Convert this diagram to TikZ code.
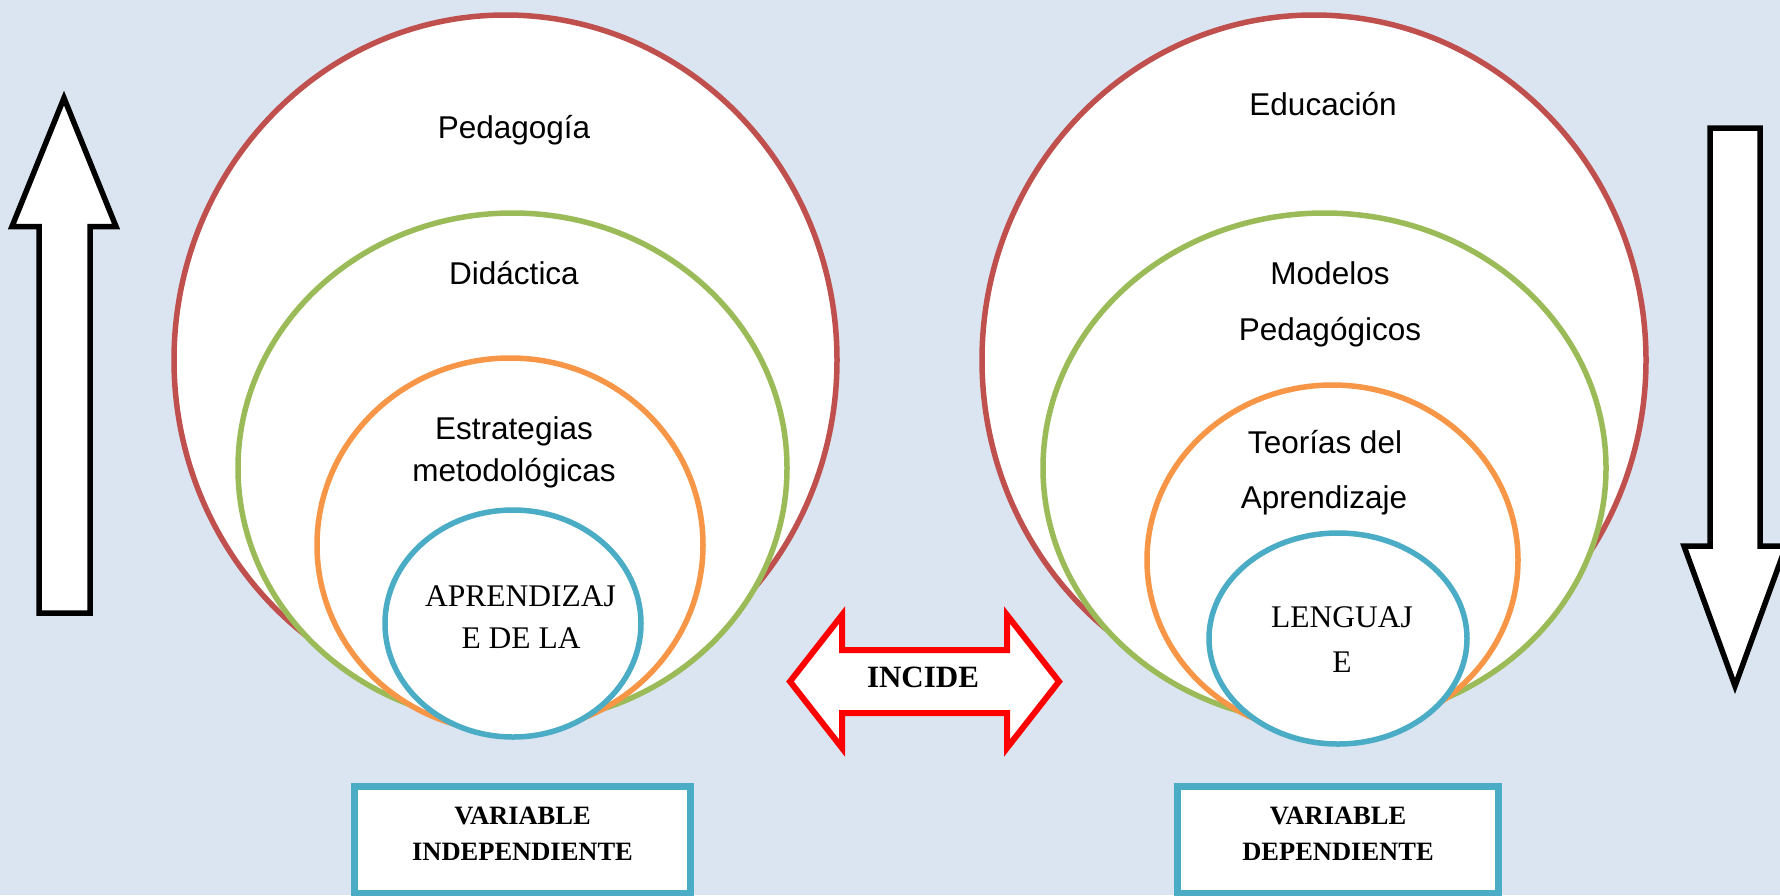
\documentclass[tikz,border=0pt]{standalone}
\usepackage{fontspec}
\setmainfont{Liberation Serif}
\newfontfamily\arialf{Liberation Sans}
\usetikzlibrary{shapes.geometric}
\definecolor{bgc}{HTML}{DBE5F1}
\definecolor{cred}{HTML}{C0504D}
\definecolor{cgreen}{HTML}{9BBB59}
\definecolor{corange}{HTML}{F79646}
\definecolor{cblue}{HTML}{4BACC6}
\definecolor{pure}{HTML}{FF0000}
\begin{document}
\begin{tikzpicture}[x=1pt,y=-1pt,
  ring/.style={ellipse, fill=white, line width=5.5pt, inner sep=0pt, outer sep=0pt},
  lab/.style={font=\arialf\fontsize{31.5}{36}\selectfont, anchor=base, inner sep=0pt},
  serl/.style={font=\fontsize{31.5}{36}\selectfont, anchor=base, inner sep=0pt},
  boxl/.style={font=\bfseries\fontsize{26.5}{30}\selectfont, anchor=base, inner sep=0pt},
  blockarrow/.style={fill=white, line width=5.5pt, line join=miter},
  varbox/.style={draw=cblue, line width=6.5pt, fill=white, inner sep=0pt, outer sep=0pt}]
\useasboundingbox (0,0) rectangle (1780,895);
\fill[bgc] (0,0) rectangle (1780,895);

% left nested circles
\node[ring, draw=cred, minimum width=663pt, minimum height=690pt] (redL) at (505.5,360) {};
\node[ring, draw=cgreen, minimum width=549pt, minimum height=510pt] (greenL) at (512.5,468) {};
\node[ring, draw=corange, minimum width=386pt, minimum height=374pt] (orangeL) at (510,545) {};
\node[ring, draw=cblue, minimum width=256pt, minimum height=227pt] (blueL) at (513,623.5) {};

% right nested circles
\node[ring, draw=cred, minimum width=664pt, minimum height=690pt] (redR) at (1314,360) {};
\node[ring, draw=cgreen, minimum width=563pt, minimum height=510pt] (greenR) at (1324.5,468) {};
\node[ring, draw=corange, minimum width=371pt, minimum height=350pt] (orangeR) at (1332.5,560) {};
\node[ring, draw=cblue, minimum width=258pt, minimum height=211pt] (blueR) at (1338,638.5) {};

% left labels
\node[lab] (pedagogia) at (514,138) {Pedagogía};
\node[lab] (didactica) at (514,284) {Didáctica};
\node[lab] (estrat1) at (514,439) {Estrategias};
\node[lab] (estrat2) at (514,481) {metodológicas};
\node[serl] (apr1) at (520.5,606) {APRENDIZAJ};
\node[serl] (apr2) at (521,648) {E DE LA};

% right labels
\node[lab] (educacion) at (1323,115) {Educación};
\node[lab] (modelos1) at (1330,284) {Modelos};
\node[lab] (modelos2) at (1330,340) {Pedagógicos};
\node[lab] (teorias1) at (1325,453) {Teorías del};
\node[lab] (teorias2) at (1324,508) {Aprendizaje};
\node[serl] (leng1) at (1342,627) {LENGUAJ};
\node[serl] (leng2) at (1342,672) {E};

% variable boxes
\node[varbox, minimum width=336pt, minimum height=106.5pt] (boxL) at (522.5,839.75) {};
\node[boxl] (varL1) at (522.5,824) {VARIABLE};
\node[boxl] (varL2) at (522.5,860) {INDEPENDIENTE};
\node[varbox, minimum width=321pt, minimum height=106.5pt] (boxR) at (1338,839.75) {};
\node[boxl] (varR1) at (1338,824) {VARIABLE};
\node[boxl] (varR2) at (1338,860) {DEPENDIENTE};

% up arrow (left)
\draw[blockarrow, draw=black] (64,98) -- (116,226.5) -- (90,226.5) -- (90,613) -- (39,613)
  -- (39,226.5) -- (12,226.5) -- cycle;

% down arrow (right)
\draw[blockarrow, draw=black] (1710,128) -- (1760,128) -- (1760,546) -- (1786,546)
  -- (1735,686) -- (1684,546) -- (1710,546) -- cycle;

% INCIDE double arrow
\draw[blockarrow, draw=pure, line width=6pt] (790,681.5) -- (842,615) -- (842,650) -- (1007,650)
  -- (1007,615) -- (1059,681.5) -- (1007,748) -- (1007,713) -- (842,713) -- (842,748) -- cycle;
\node[boxl, font=\bfseries\fontsize{31}{34}\selectfont] (incide) at (923,687) {INCIDE};
\end{tikzpicture}
\end{document}
